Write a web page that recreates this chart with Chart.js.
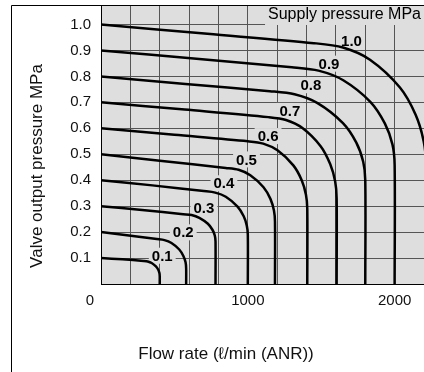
<!DOCTYPE html>
<html lang="en">
<head>
  <meta charset="UTF-8">
  <title>Valve output pressure vs flow rate</title>
  <script src="https://cdn.jsdelivr.net/npm/chart.js"></script>
  <style>
    * {
      margin: 0;
      padding: 0;
      box-sizing: border-box;
    }

    body {
      background: #fff;
      width: 424px;
      height: 372px;
      overflow: hidden;
    }

    canvas {
      display: block;
    }
  </style>
</head>
<body>
  <canvas id="flowChart" width="424" height="372"></canvas>

  <script>
    // supply pressure of each curve (MPa)
    const supplyPressures = [0.1, 0.2, 0.3, 0.4, 0.5, 0.6, 0.7, 0.8, 0.9, 1.0];

    // curves: [flow l/min, output pressure MPa]
    const p01 = [[0, 0.1], [145, 0.095], [290, 0.089], [318, 0.087], [345, 0.081], [374, 0.068], [390, 0.055], [398, 0.042], [400, 0.03], [400, 0]];
    const p02 = [[0, 0.2], [190, 0.187], [380, 0.173], [432, 0.169], [480, 0.158], [533, 0.133], [561, 0.108], [576, 0.084], [580, 0.06], [580, 0]];
    const p03 = [[0, 0.3], [280, 0.285], [560, 0.269], [617, 0.266], [670, 0.255], [728, 0.232], [759, 0.209], [775, 0.187], [780, 0.165], [780, 0]];
    const p04 = [[0, 0.4], [350, 0.38], [700, 0.358], [778, 0.352], [850, 0.336], [930, 0.298], [972, 0.261], [993, 0.225], [1000, 0.19], [1000, 0]];
    const p05 = [[0, 0.5], [400, 0.475], [850, 0.447], [937, 0.44], [1017, 0.419], [1107, 0.373], [1154, 0.328], [1178, 0.283], [1185, 0.24], [1185, 0]];
    const p06 = [[0, 0.6], [500, 0.575], [1000, 0.55], [1105, 0.541], [1202, 0.515], [1310, 0.457], [1367, 0.4], [1396, 0.344], [1405, 0.29], [1405, 0]];
    const p07 = [[0, 0.7], [570, 0.672], [1140, 0.643], [1260, 0.632], [1372, 0.601], [1496, 0.531], [1561, 0.462], [1595, 0.395], [1605, 0.33], [1605, 0]];
    const p08 = [[0, 0.8], [575, 0.771], [1150, 0.743], [1318, 0.731], [1475, 0.697], [1648, 0.62], [1739, 0.545], [1786, 0.471], [1800, 0.4], [1800, 0]];
    const p09 = [[0, 0.9], [650, 0.868], [1300, 0.835], [1481, 0.822], [1650, 0.785], [1836, 0.701], [1934, 0.618], [1985, 0.538], [2000, 0.46], [2000, 0]];
    const p10 = [[0, 1.0], [725, 0.964], [1450, 0.928], [1648, 0.911], [1832, 0.864], [2036, 0.757], [2143, 0.652], [2198, 0.549], [2215, 0.45], [2215, 0]];
    const curves = [p01, p02, p03, p04, p05, p06, p07, p08, p09, p10];

    // where each bold curve label sits (data units)
    const labelFlow = [417, 560, 701, 837, 991, 1138, 1286, 1429, 1553, 1706];
    const labelPressure = [0.109, 0.199, 0.295, 0.388, 0.48, 0.57, 0.667, 0.766, 0.849, 0.936];

    // axis ticks
    const xTicks = [0, 200, 400, 600, 800, 1000, 1200, 1400, 1600, 1800, 2000, 2200];
    const xTickLabels = [1000, 2000];
    const yTicks = [0, 0.1, 0.2, 0.3, 0.4, 0.5, 0.6, 0.7, 0.8, 0.9, 1.0];

    const FONT = "'Liberation Sans', Arial, Helvetica, sans-serif";
    const plotBg = '#dedede';
    const gridColor = '#555';

    Chart.defaults.font.family = FONT;
    Chart.defaults.color = '#111';

    const decor = {
      id: 'decor',
      beforeDraw(chart) {
        const { ctx, chartArea: a } = chart;
        ctx.save();
        ctx.fillStyle = plotBg;
        ctx.fillRect(a.left, a.top, a.right - a.left, a.bottom - a.top);
        ctx.restore();
      },
      beforeDatasetsDraw(chart) {
        const { ctx, chartArea: a, scales: { x, y } } = chart;
        ctx.save();
        ctx.textAlign = 'center';
        ctx.textBaseline = 'middle';
        ctx.font = 'bold 15px ' + FONT;
        supplyPressures.forEach((p, i) => {
          const txt = p.toFixed(1);
          const px = x.getPixelForValue(labelFlow[i]);
          const py = y.getPixelForValue(labelPressure[i]);
          const w = ctx.measureText(txt).width + 6;
          ctx.fillStyle = plotBg;
          ctx.fillRect(px - w / 2, py - 8, w, 16);
          ctx.fillStyle = '#000';
          ctx.fillText(txt, px, py + 1);
        });

        // caption in the top right corner
        ctx.font = '16px ' + FONT;
        ctx.textAlign = 'right';
        const cap = 'Supply pressure MPa';
        const cw = ctx.measureText(cap).width;
        ctx.fillStyle = plotBg;
        ctx.fillRect(a.right - cw - 6, a.top + 1, cw + 6, 19);
        ctx.fillStyle = '#000';
        ctx.fillText(cap, a.right - 3, a.top + 10);
        ctx.restore();
      },
      afterDraw(chart) {
        const { ctx, chartArea: a } = chart;
        ctx.save();
        // figure frame
        ctx.strokeStyle = '#000';
        ctx.lineWidth = 1;
        ctx.beginPath();
        ctx.moveTo(11.5, chart.height);
        ctx.lineTo(11.5, a.top + 0.5);
        ctx.lineTo(chart.width, a.top + 0.5);
        ctx.stroke();

        ctx.fillStyle = '#111';
        ctx.textAlign = 'center';
        ctx.textBaseline = 'middle';
        ctx.font = '15px ' + FONT;
        ctx.fillText('0', a.left - 11, a.bottom + 17);

        ctx.font = '17px ' + FONT;
        ctx.fillText('Flow rate (ℓ/min (ANR))', 226, 354);

        ctx.translate(37, 166);
        ctx.rotate(-Math.PI / 2);
        ctx.fillText('Valve output pressure MPa', 0, 0);
        ctx.restore();
      }
    };

    new Chart(document.getElementById('flowChart'), {
      type: 'line',
      data: {
        datasets: curves.map((pts, i) => ({
          label: supplyPressures[i].toFixed(1),
          data: pts.map(([x, y]) => ({ x, y })),
          borderColor: '#000',
          borderWidth: 2.5,
          pointRadius: 0,
          tension: 0.3,
          fill: false
        }))
      },
      options: {
        responsive: false,
        animation: false,
        layout: { padding: { top: 5, left: 0, right: 0, bottom: 0 } },
        plugins: {
          legend: { display: false },
          tooltip: { enabled: false }
        },
        scales: {
          x: {
            type: 'linear',
            min: 0,
            max: 2200,
            afterBuildTicks: s => { s.ticks = xTicks.map(v => ({ value: v })); },
            afterFit: s => { s.height = 88; s.paddingLeft = 0; s.paddingRight = 0; },
            ticks: {
              autoSkip: false,
              maxRotation: 0,
              padding: 8,
              font: { size: 15 },
              callback: v => xTickLabels.includes(v) ? String(v) : ''
            },
            grid: { color: gridColor, lineWidth: 1, drawTicks: false },
            border: { color: '#000', width: 1 }
          },
          y: {
            type: 'linear',
            min: 0,
            max: 1.075,
            afterBuildTicks: s => { s.ticks = yTicks.map(v => ({ value: v })); },
            afterFit: s => { s.width = 101; s.paddingTop = 0; s.paddingBottom = 0; },
            ticks: {
              padding: 10,
              font: { size: 15 },
              callback: v => v === 0 ? '' : v.toFixed(1)
            },
            grid: { color: gridColor, lineWidth: 1, drawTicks: false },
            border: { color: '#000', width: 1 }
          }
        }
      },
      plugins: [decor]
    });
  </script>
</body>
</html>
